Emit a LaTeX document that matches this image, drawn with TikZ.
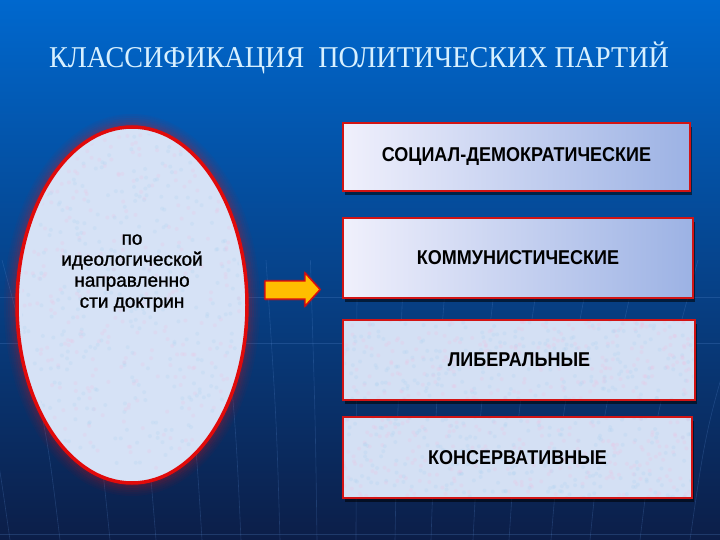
\documentclass[tikz,border=0pt]{standalone}
\usepackage{fontspec}
\setmainfont{Liberation Serif}
\newfontfamily\titlefont[FakeStretch=0.93]{Liberation Serif}
\newfontfamily\boxfont[FakeStretch=0.9]{Liberation Sans}
\newfontfamily\elfont[FakeBold=1.2]{Liberation Sans}
\usetikzlibrary{shadows,shapes.geometric}
\definecolor{bgtop}{RGB}{0,104,206}
\definecolor{bgmid}{RGB}{8,66,150}
\definecolor{bgbot}{RGB}{12,30,72}
\definecolor{gridcol}{RGB}{90,140,210}
\definecolor{titlecol}{RGB}{215,240,255}
\definecolor{elred}{RGB}{225,10,10}
\definecolor{elfill}{RGB}{214,226,246}
\definecolor{boxred}{RGB}{210,20,20}
\definecolor{boxleft}{RGB}{240,240,252}
\definecolor{boxright}{RGB}{156,178,228}
\definecolor{texfill}{RGB}{212,224,244}
\definecolor{texpink}{RGB}{236,196,228}
\definecolor{texblue}{RGB}{176,212,242}
\definecolor{arrowfill}{RGB}{255,190,0}
\tikzset{
  partbox/.style={draw=boxred, line width=2pt, inner sep=0pt,
    drop shadow={shadow xshift=2pt, shadow yshift=-4pt, opacity=0.55, fill=black}},
  gradbox/.style={partbox, left color=boxleft, right color=boxright},
  texbox/.style={partbox, fill=texfill},
  boxtext/.style={font=\boxfont\bfseries\fontsize{20}{22}\selectfont, text=black},
  faint/.style={draw=gridcol, line width=0.6pt, opacity=0.25}
}
\newcommand\texdots[5]{% cx, cy, rx, ry, count
  \pgfmathsetseed{#5}
  \foreach \i in {1,...,#5}{
    \pgfmathsetmacro\px{#1+#3*rand}
    \pgfmathsetmacro\py{#2+#4*rand}
    \pgfmathsetmacro\pc{rnd}
    \ifdim\pc pt<0.5pt
      \fill[texpink, opacity=0.25] (\px,\py) circle (2);
    \else
      \fill[texblue, opacity=0.25] (\px,\py) circle (2);
    \fi
  }}
\begin{document}
\begin{tikzpicture}[x=1pt,y=-1pt]
\useasboundingbox (0,0) rectangle (720,540);
\shade[top color=bgtop, middle color=bgmid, bottom color=bgbot] (0,0) rectangle (720,540);
% faint background lines
\foreach \b in {10,60,110,156,202,241,280,317,356,395,431,473,509,551,590,640,690}
  \draw[faint] (\b,540) .. controls ({350+(\b-350)*1.05},420) .. ({350+(\b-350)*1.2},260);
\draw[faint] (0,297) -- (720,297);
\draw[faint] (0,343) -- (720,343);
\draw[faint] (0,534) -- (720,534);
% title
\node[font=\titlefont\fontsize{30.2}{31}\selectfont, text=titlecol] (title) at (359,58) {КЛАССИФИКАЦИЯ\ \ ПОЛИТИЧЕСКИХ ПАРТИЙ};
% ellipse glow
\foreach \i/\o in {1/0.35,2/0.28,3/0.22,4/0.16,5/0.11,6/0.07,7/0.04}
  \draw[elred, line width=2pt, opacity=\o] (132,305) ellipse [x radius={113+2*\i}, y radius={176+2*\i}];
\node[ellipse, minimum width=230pt, minimum height=356pt, fill=elfill, draw=elred, line width=3.5pt, inner sep=0pt] (ell) at (132,305) {};
\begin{scope}
  \clip (132,305) ellipse [x radius=110, y radius=173];
  \texdots{132}{305}{112}{175}{701}
\end{scope}
\node[font=\elfont\fontsize{19}{21}\selectfont, align=center, text=black] (eltext) at (132,273)
  {по\\идеологической\\направленно\\сти доктрин};
% arrow
\draw[elred, line width=3pt, opacity=0.3, line join=round] (265,281) -- (305,281) -- (305,273) -- (320,289.5) -- (305,306) -- (305,299) -- (265,299) -- cycle;
\draw[fill=arrowfill, draw=elred, line width=1.3pt, line join=miter] (265,281) -- (305,281) -- (305,273) -- (320,289.5) -- (305,306) -- (305,299) -- (265,299) -- cycle;
\coordinate (arrowtip) at (320,289.5);
% boxes
\node[gradbox, minimum width=347pt, minimum height=68pt] (b1) at (516.5,157) {};
\node[boxtext] (t1) at (b1.center) {СОЦИАЛ-ДЕМОКРАТИЧЕСКИЕ};
\node[gradbox, minimum width=350pt, minimum height=80pt] (b2) at (518,258) {};
\node[boxtext] (t2) at (b2.center) {КОММУНИСТИЧЕСКИЕ};
\node[texbox, minimum width=352pt, minimum height=80pt] (b3) at (519,360) {};
\begin{scope}
  \clip (344.5,321.5) rectangle (693.5,398.5);
  \texdots{519}{360}{176}{40}{451}
\end{scope}
\node[texbox, minimum width=349pt, minimum height=81pt] (b4) at (517.5,457.5) {};
\begin{scope}
  \clip (344,418.5) rectangle (691,496.5);
  \texdots{517.5}{457.5}{175}{41}{452}
\end{scope}
\node[boxtext] (t3) at (b3.center) {ЛИБЕРАЛЬНЫЕ};
\node[boxtext] (t4) at (b4.center) {КОНСЕРВАТИВНЫЕ};
\end{tikzpicture}
\end{document}
